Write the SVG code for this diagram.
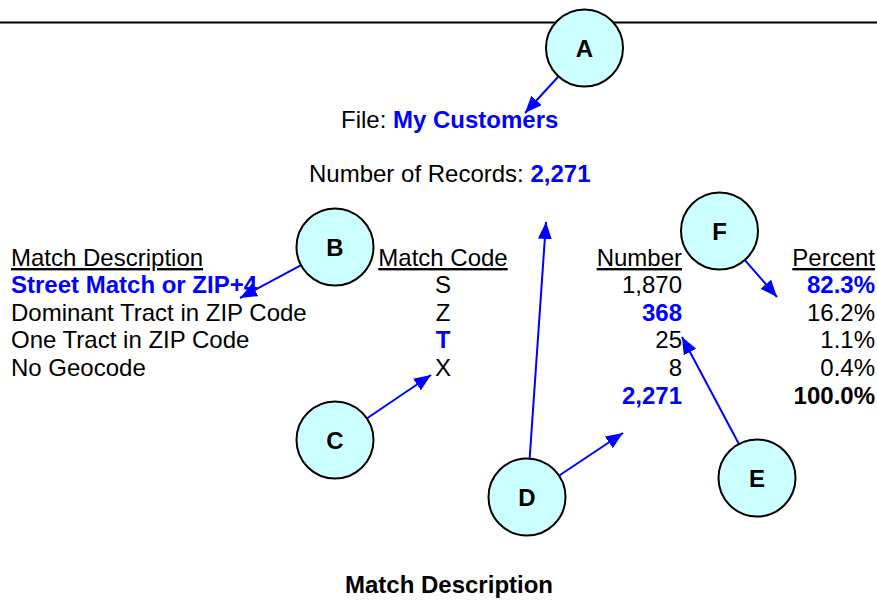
<svg xmlns="http://www.w3.org/2000/svg" width="877" height="600" viewBox="0 0 877 600">
  <style>
    text { font-family: "Liberation Sans", Arial, sans-serif; font-size: 24px; fill: #000; }
    .b { font-weight: bold; }
    .blue { fill: #0000FF; font-weight: bold; }
    .u { text-decoration: underline; }
    .mid { text-anchor: middle; }
    .end { text-anchor: end; }
    .node circle { fill: #CCFFFF; stroke: #000; stroke-width: 2; }
    .node text { font-weight: bold; font-size: 24px; text-anchor: middle; }
    .conn line { stroke: #0000FF; stroke-width: 2; marker-end: url(#arrow); }
  </style>
  <defs>
    <marker id="arrow" markerUnits="userSpaceOnUse" viewBox="0 0 17 14" refX="17" refY="7" markerWidth="17" markerHeight="14" orient="auto">
      <path d="M0,0 L17,7 L0,14 Z" fill="#0000FF"/>
    </marker>
  </defs>

  <rect width="877" height="600" fill="#fff"/>
  <!-- rule across the top of the report -->
  <line x1="0" y1="22.5" x2="877" y2="22.5" stroke="#000" stroke-width="2"/>

  <!-- report heading -->
  <g id="heading">
    <text x="341" y="128">File: <tspan class="blue">My Customers</tspan></text>
    <text x="309" y="182">Number of Records: <tspan class="blue">2,271</tspan></text>
  </g>

  <!-- match table -->
  <g id="table">
    <text x="11" y="266" class="u">Match Description</text>
    <text x="443" y="266" class="u mid">Match Code</text>
    <text x="682" y="266" class="u end">Number</text>
    <text x="875" y="266" class="u end">Percent</text>

    <text x="11" y="293" class="blue">Street Match or ZIP+4</text>
    <text x="443" y="293" class="mid">S</text>
    <text x="682" y="293" class="end">1,870</text>
    <text x="875" y="293" class="end blue">82.3%</text>

    <text x="11" y="321">Dominant Tract in ZIP Code</text>
    <text x="443" y="321" class="mid">Z</text>
    <text x="682" y="321" class="end blue">368</text>
    <text x="875" y="321" class="end">16.2%</text>

    <text x="11" y="348">One Tract in ZIP Code</text>
    <text x="443" y="348" class="mid blue">T</text>
    <text x="682" y="348" class="end">25</text>
    <text x="875" y="348" class="end">1.1%</text>

    <text x="11" y="376">No Geocode</text>
    <text x="443" y="376" class="mid">X</text>
    <text x="682" y="376" class="end">8</text>
    <text x="875" y="376" class="end">0.4%</text>

    <text x="682" y="404" class="end blue">2,271</text>
    <text x="875" y="404" class="end b">100.0%</text>
  </g>

  <text id="caption" x="449" y="593" class="b mid">Match Description</text>

  <!-- callout arrows -->
  <g id="connectors" class="conn">
    <line x1="584.5" y1="48" x2="525" y2="113"/>
    <line x1="335" y1="247" x2="240" y2="298"/>
    <line x1="335" y1="440" x2="431" y2="375"/>
    <line x1="527" y1="497" x2="546" y2="222"/>
    <line x1="527" y1="497" x2="623" y2="433"/>
    <line x1="757" y1="478" x2="682" y2="337"/>
    <line x1="719.5" y1="231" x2="777" y2="297"/>
  </g>

  <!-- callout bubbles -->
  <g id="node-A" class="node"><circle cx="584.5" cy="48" r="38.5"/><text x="584.5" y="56.5">A</text></g>
  <g id="node-B" class="node"><circle cx="335" cy="247" r="38.5"/><text x="335" y="255.5">B</text></g>
  <g id="node-C" class="node"><circle cx="335" cy="440" r="38.5"/><text x="335" y="448.5">C</text></g>
  <g id="node-D" class="node"><circle cx="527" cy="497" r="38.5"/><text x="527" y="505.5">D</text></g>
  <g id="node-E" class="node"><circle cx="757" cy="478" r="38.5"/><text x="757" y="486.5">E</text></g>
  <g id="node-F" class="node"><circle cx="719.5" cy="231" r="38.5"/><text x="719.5" y="239.5">F</text></g>
</svg>
